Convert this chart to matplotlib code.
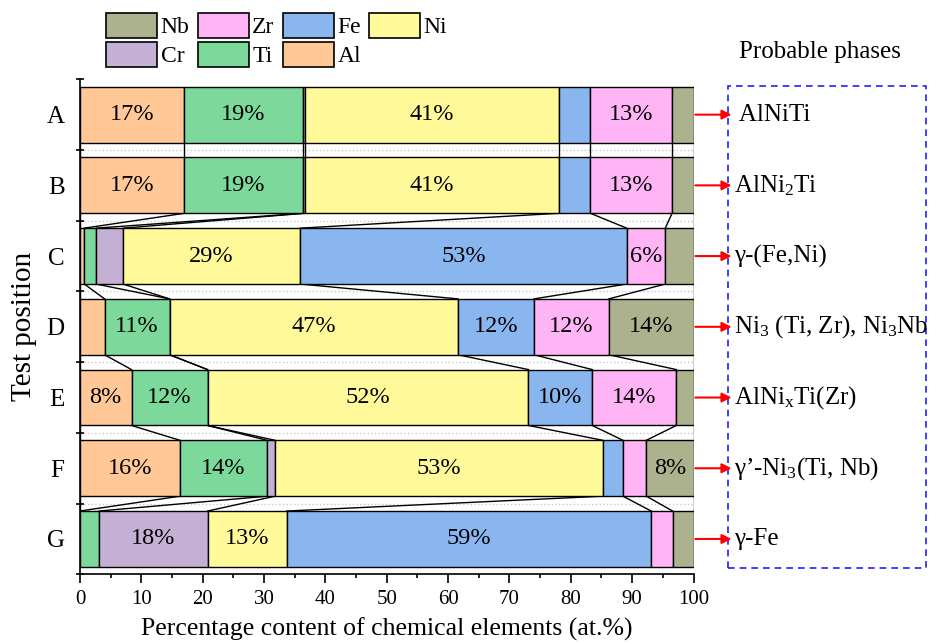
import numpy as np
import matplotlib.pyplot as plt
from matplotlib.patches import Patch, Rectangle

plt.rcParams['font.family'] = ['Liberation Serif', 'DejaVu Serif']
plt.rcParams['mathtext.fontset'] = 'custom'
plt.rcParams['mathtext.rm'] = 'Liberation Serif'
plt.rcParams['mathtext.default'] = 'regular'

# composition (at.%) of each test position, stacked left to right
rows = ['A', 'B', 'C', 'D', 'E', 'F', 'G']
al = [17.0, 17.0, 0.7, 4.0, 8.4, 16.3, 0.0]
ti = [19.3, 19.3, 1.9, 10.6, 12.4, 14.2, 3.1]
cr = [0.3, 0.3, 4.4, 0.0, 0.0, 1.3, 17.7]
ni = [41.4, 41.4, 28.9, 47.0, 52.3, 53.4, 12.9]
fe = [5.2, 5.2, 53.2, 12.4, 10.4, 3.3, 59.4]
zr = [13.3, 13.3, 6.3, 12.2, 13.7, 3.8, 3.5]
nb = [3.5, 3.5, 4.6, 13.8, 2.8, 7.7, 3.4]

elements = ['Al', 'Ti', 'Cr', 'Ni', 'Fe', 'Zr', 'Nb']
colors = {'Al': '#FFC896', 'Ti': '#7CD99B', 'Cr': '#C5B0D5', 'Ni': '#FFF99A',
          'Fe': '#8AB6F0', 'Zr': '#FFB5F5', 'Nb': '#ADB28E'}

phases = [' AlNiTi', 'AlNi$_2$Ti', 'γ-(Fe,Ni)', 'Ni$_3$ (Ti, Zr), Ni$_3$Nb',
          'AlNi$_x$Ti(Zr)', 'γ’-Ni$_3$(Ti, Nb)', 'γ-Fe']

fig = plt.figure(figsize=(9.3, 6.42), dpi=100)
ax = fig.add_axes([0.086, 0.1054, 0.6597, 0.7711])

bar_h = 0.79
y = np.arange(len(rows))
data = np.array([al, ti, cr, ni, fe, zr, nb])
left = np.zeros(len(rows))
for name, vals in zip(elements, data):
    ax.barh(y, vals, left=left, height=bar_h, color=colors[name],
            edgecolor='black', linewidth=1, zorder=2)
    for yi, (l, v) in enumerate(zip(left, vals)):
        if v >= 5.5:
            ax.text(l + v / 2, yi, f'{round(v)}%', ha='center', va='center',
                    fontsize=17.5, zorder=3)
    left = left + vals

# lines joining the segment boundaries of neighbouring bars
cum = np.vstack([np.zeros(len(rows)), np.cumsum(data, axis=0)])
for i in range(len(rows) - 1):
    for k in range(cum.shape[0]):
        ax.plot([cum[k, i], cum[k, i + 1]], [i + bar_h / 2, i + 1 - bar_h / 2],
                color='black', lw=1, zorder=1)

for b in np.arange(0.5, len(rows) - 1):
    ax.axhline(b, color='#c8c8c8', ls=':', lw=1, zorder=0)

ax.set_xlim(0, 100)
ax.set_ylim(len(rows) - 0.5, -0.5)
ax.set_xticks(np.arange(0, 101, 10))
ax.set_xticks(np.arange(0, 101, 5), minor=True)
ax.set_yticks(np.arange(-0.5, len(rows), 1))
ax.set_yticklabels([])
ax.set_yticks(y, minor=True)
ax.set_yticklabels(rows, minor=True)
ax.tick_params(axis='y', which='major', direction='inout', length=6, width=1.2)
ax.tick_params(axis='y', which='minor', length=0, labelsize=18, pad=11)
ax.tick_params(axis='x', which='major', direction='out', length=6.5, width=1.2,
               labelsize=15, pad=5)
ax.tick_params(axis='x', which='minor', direction='out', length=3, width=1.2)
for side in ['top', 'right']:
    ax.spines[side].set_visible(False)
for side in ['left', 'bottom']:
    ax.spines[side].set_linewidth(1.2)

ax.set_xlabel('Percentage content of chemical elements (at.%)', fontsize=18.5,
              labelpad=6)
ax.set_ylabel('Test position', fontsize=21, labelpad=7)

# arrows to the phase names
tr = ax.get_yaxis_transform()
for yi, ph in enumerate(phases):
    ax.annotate('', xy=(1.062, yi), xytext=(1.003, yi), xycoords=tr,
                arrowprops=dict(arrowstyle='-|>', color='red', lw=1.5,
                                mutation_scale=14, shrinkA=0, shrinkB=0),
                annotation_clip=False)
    ax.text(1.066, yi, ph, transform=tr, ha='left', va='center', fontsize=18)

box = Rectangle((1.0566, 0.0127), 0.3224, 0.9738, transform=ax.transAxes,
                fill=False, edgecolor='#2020ff', linestyle=(0, (4, 3)), lw=1.2,
                clip_on=False)
ax.add_patch(box)
fig.text(820 / 930, 1 - 52 / 642, 'Probable phases', ha='center', va='center',
         fontsize=18)

# legend laid out column by column: Nb/Cr, Zr/Ti, Fe/Al, Ni
order = ['Nb', 'Cr', 'Zr', 'Ti', 'Fe', 'Al', 'Ni']
handles = [Patch(facecolor=colors[e], edgecolor='black', lw=1.2) for e in order]
fig.legend(handles, order, ncol=4, loc='upper left',
           bbox_to_anchor=(106 / 930, 1 - 13 / 642), frameon=False, fontsize=17,
           handlelength=2.16, handleheight=1.25, handletextpad=0.15,
           columnspacing=0.35, labelspacing=0.15, borderpad=0, borderaxespad=0)

fig.savefig('out.png', dpi=100)
